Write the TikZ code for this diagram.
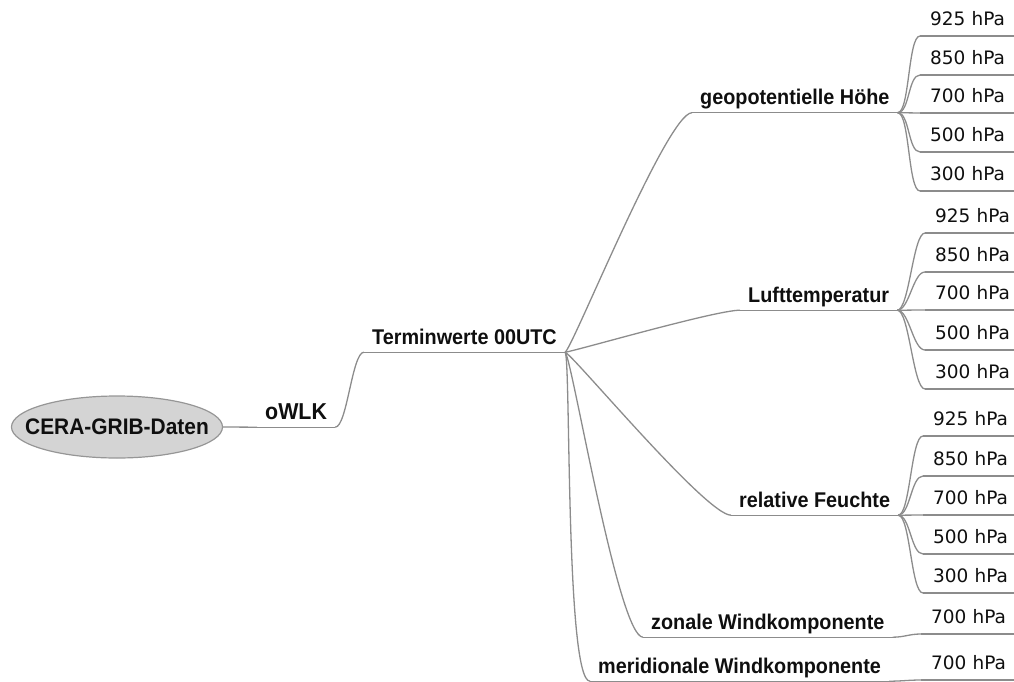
\documentclass[tikz,border=0pt]{standalone}
\usepackage{fontspec}
\setmainfont{Liberation Sans}[BoldFeatures={FakeStretch=0.93}]
\newfontfamily\leaffont{DejaVu Sans}
\usetikzlibrary{shapes.geometric}
\definecolor{edgegray}{RGB}{140,140,140}
\definecolor{rootfill}{RGB}{212,212,212}
\definecolor{rootline}{RGB}{150,150,150}
\definecolor{txt}{RGB}{15,15,15}
\tikzset{
  edge/.style={draw=edgegray, line width=1.3pt},
  rootnode/.style={ellipse, draw=rootline, line width=1.2pt, fill=rootfill, minimum width=211pt, minimum height=62pt, inner xsep=-40pt, inner ysep=0pt, text=txt, font=\fontsize{22.5}{26}\selectfont\bfseries},
  inner/.style={anchor=base west, inner xsep=8pt, inner ysep=0pt, text depth=8pt, text=txt, font=\fontsize{21.3}{25}\selectfont\bfseries},
  leaf/.style={anchor=south west, inner xsep=10pt, inner ysep=0pt, text depth=10.5pt, text width=80pt, align=left, text=txt, font=\fontsize{18.5}{22}\selectfont\leaffont},
}
\begin{document}
\begin{tikzpicture}[x=1pt,y=-1pt]
\useasboundingbox (0,0) rectangle (1014,682);
\clip (0,0) rectangle (1014,682);

% root and main chain
\node[rootnode] (root) at (117,427) {CERA-GRIB-Daten};
\node[inner, font=\fontsize{23}{26}\selectfont\bfseries] (owlk) at (257,419) {oWLK};
\node[inner] (term) at (364,344) {Terminwerte 00UTC};

% level 3
\node[inner] (geo) at (692,104.5) {geopotentielle Höhe};
\node[inner] (luft) at (740,302) {Lufttemperatur};
\node[inner] (rel) at (731,507) {relative Feuchte};
\node[inner] (zon) at (643,629) {zonale Windkomponente};
\node[inner] (mer) at (590,673) {meridionale Windkomponente};

% leaves
\node[leaf] (g1) at (920,36) {925 hPa};
\node[leaf] (g2) at (920,75) {850 hPa};
\node[leaf] (g3) at (920,113) {700 hPa};
\node[leaf] (g4) at (920,152) {500 hPa};
\node[leaf] (g5) at (920,191) {300 hPa};

\node[leaf] (l1) at (925,233) {925 hPa};
\node[leaf] (l2) at (925,272) {850 hPa};
\node[leaf] (l3) at (925,310) {700 hPa};
\node[leaf] (l4) at (925,350) {500 hPa};
\node[leaf] (l5) at (925,389) {300 hPa};

\node[leaf] (r1) at (923,436) {925 hPa};
\node[leaf] (r2) at (923,476) {850 hPa};
\node[leaf] (r3) at (923,515) {700 hPa};
\node[leaf] (r4) at (923,554) {500 hPa};
\node[leaf] (r5) at (923,593) {300 hPa};

\node[leaf] (z1) at (921,634) {700 hPa};
\node[leaf] (m1) at (921,680) {700 hPa};

% underlines
\foreach \n in {owlk,term,geo,luft,rel,zon,mer,g1,g2,g3,g4,g5,l1,l2,l3,l4,l5,r1,r2,r3,r4,r5,z1,m1}
  \draw[edge] (\n.south west) -- (\n.south east);

% connectors
\draw[edge] (root.east) -- (owlk.south west);
\draw[edge] (owlk.south east) .. controls +(12,0) and +(-12,0) .. (term.south west);
\foreach \c in {geo,luft,rel,zon,mer}
  \draw[edge] (term.south east) .. controls +(6,0) and +(-25,0) .. (\c.south west);
\foreach \c in {g1,g2,g3,g4,g5}
  \draw[edge] (geo.south east) .. controls +(12,0) and +(-12,0) .. (\c.south west);
\foreach \c in {l1,l2,l3,l4,l5}
  \draw[edge] (luft.south east) .. controls +(12,0) and +(-12,0) .. (\c.south west);
\foreach \c in {r1,r2,r3,r4,r5}
  \draw[edge] (rel.south east) .. controls +(12,0) and +(-12,0) .. (\c.south west);
\draw[edge] (zon.south east) .. controls +(12,0) and +(-12,0) .. (z1.south west);
\draw[edge] (mer.south east) .. controls +(12,0) and +(-12,0) .. (m1.south west);
\end{tikzpicture}
\end{document}
